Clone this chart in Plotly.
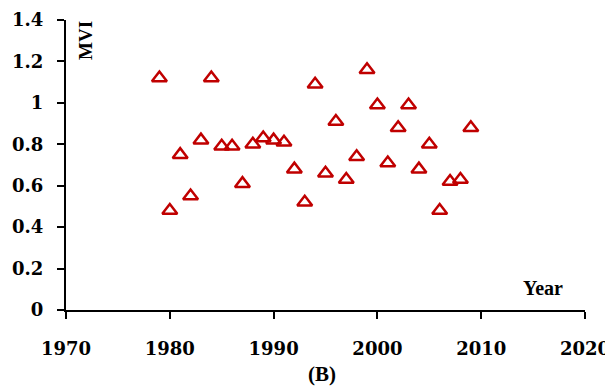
import plotly.graph_objects as go

years = [1979, 1980, 1981, 1982, 1983, 1984, 1985, 1986, 1987, 1988, 1989, 1990,
         1991, 1992, 1993, 1994, 1995, 1996, 1997, 1998, 1999, 2000, 2001, 2002,
         2003, 2004, 2005, 2006, 2007, 2008, 2009]
mvi = [1.12, 0.48, 0.75, 0.55, 0.82, 1.12, 0.79, 0.79, 0.61, 0.80, 0.83, 0.82,
       0.81, 0.68, 0.52, 1.09, 0.66, 0.91, 0.63, 0.74, 1.16, 0.99, 0.71, 0.88,
       0.99, 0.68, 0.80, 0.48, 0.62, 0.63, 0.88]
x_ticks = [1970, 1980, 1990, 2000, 2010, 2020]
y_ticks = [0, 0.2, 0.4, 0.6, 0.8, 1, 1.2, 1.4]
y_tick_text = ["0", "0.2", "0.4", "0.6", "0.8", "1", "1.2", "1.4"]

red = "#C00000"
tick_font = dict(family="DejaVu Serif", size=18, color="black", weight="bold")

fig = go.Figure()
fig.add_trace(go.Scatter(
    x=years, y=mvi, mode="markers",
    marker=dict(symbol="triangle-up-open", size=13, color=red,
                line=dict(width=2.5, color=red)),
    showlegend=False,
))

fig.update_xaxes(
    range=[1970, 2020], tickvals=x_ticks, ticktext=[str(t) for t in x_ticks],
    showgrid=False, zeroline=False, showline=True, linecolor="black", linewidth=2,
    ticks="outside", ticklen=7, tickwidth=2, tickcolor="black",
    tickfont=tick_font, ticklabelstandoff=14, automargin=False,
)
fig.update_yaxes(
    range=[0, 1.4], tickvals=y_ticks, ticktext=y_tick_text,
    showgrid=False, zeroline=False, showline=True, linecolor="black", linewidth=2,
    ticks="outside", ticklen=7, tickwidth=2, tickcolor="black",
    tickfont=tick_font, ticklabelstandoff=10, automargin=False,
)

fig.add_annotation(text="MVI", xref="paper", yref="paper", x=0.0366, y=0.931,
                   xanchor="center", yanchor="middle",
                   textangle=-90, showarrow=False,
                   font=dict(family="Liberation Serif", size=19, color="black", weight="bold"))
fig.add_annotation(text="Year", xref="x", yref="paper", x=2016.0, y=0.076,
                   xanchor="center", yanchor="middle", showarrow=False,
                   font=dict(family="Liberation Serif", size=20, color="black", weight="bold"))
fig.add_annotation(text="(B)", xref="paper", yref="paper", x=0.493, y=-0.221,
                   xanchor="center", yanchor="middle", showarrow=False,
                   font=dict(family="Liberation Serif", size=21, color="black", weight="bold"))

# page body has an 8px margin, so the figure is shrunk and shifted accordingly
fig.update_layout(
    width=605, height=379,
    margin=dict(l=58, r=28, t=12, b=77),
    plot_bgcolor="white", paper_bgcolor="white",
)
fig.write_html("out.html")
